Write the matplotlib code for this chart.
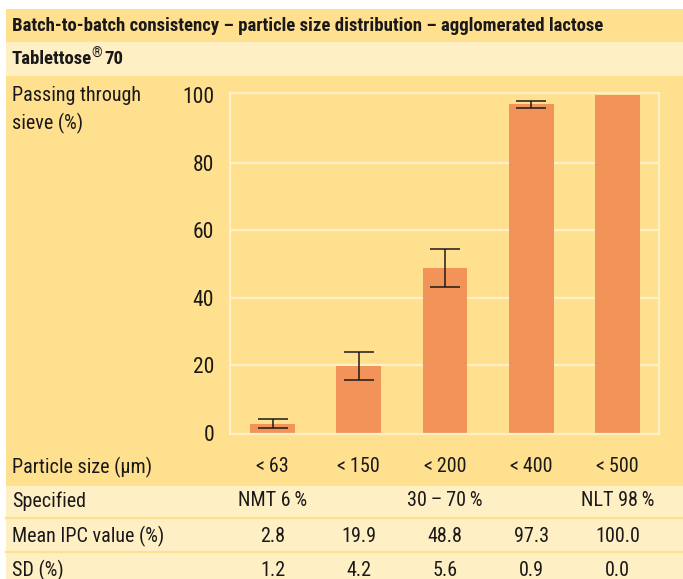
import matplotlib
matplotlib.use("Agg")
import matplotlib.pyplot as plt
from matplotlib import font_manager
from matplotlib.patches import Rectangle
from matplotlib.lines import Line2D
import numpy as np

# ---- data ----
categories = ["<\u200963", "<\u2009150", "<\u2009200", "<\u2009400", "<\u2009500"]
mean_values = [2.8, 19.9, 48.8, 97.3, 100.0]
sd_values = [1.2, 4.2, 5.6, 0.9, 0.0]
specified = ["NMT 6\u2009%", "", "30\u2009–\u200970\u2009%", "", "NLT 98\u2009%"]
mean_labels = ["2.8", "19.9", "48.8", "97.3", "100.0"]
sd_labels = ["1.2", "4.2", "5.6", "0.9", "0.0"]
yticks = [0, 20, 40, 60, 80, 100]
title = "Batch-to-batch consistency – particle size distribution – agglomerated lactose"
subtitle_name = "Tablettose"
subtitle_mark = "®"
subtitle_num = "70"
ylabel = "Passing through\nsieve (%)"
row_labels = ["Particle size (µm)", "Specified", "Mean IPC value (%)", "SD (%)"]

# ---- fonts ----
available = {f.name for f in font_manager.fontManager.ttflist}
prefs = ["Roboto Condensed", "Liberation Sans Narrow", "DejaVu Sans Condensed", "Open Sans Condensed"]
fam = None
for p in prefs:
    if p in available:
        fam = p
        break
if fam is None:
    fam = "DejaVu Sans"
    FS, FT = 11, 10.5
else:
    FS, FT = 14.5, 13.5
plt.rcParams["font.family"] = [fam, "DejaVu Sans"]

W, H = 683, 579
fig = plt.figure(figsize=(W / 100, H / 100), dpi=100)
fig.patch.set_facecolor("white")

DARK = "#FEE08F"
LIGHT = "#FFEFC4"
BAR = "#F29459"
GRID = "#FFF0C8"
TXT = "#1A1818"


def fx(x):
    return x / W


def fy(y):
    return 1 - y / H


def band(y0, y1, color, x0=6, x1=W):
    fig.patches.append(Rectangle((fx(x0), fy(y1)), fx(x1) - fx(x0), fy(y0) - fy(y1),
                                 transform=fig.transFigure, facecolor=color,
                                 edgecolor="none", zorder=-5))


band(9, 42, DARK)
band(42, 76, LIGHT)
band(76, 486, DARK)
band(486, H, LIGHT)
for ysep in [518, 552]:
    fig.lines.append(Line2D([fx(6), 1], [fy(ysep), fy(ysep)], transform=fig.transFigure,
                            color=DARK, lw=1.6, zorder=-4))


def ftext(x, y, s, ha="left", size=None, va="center", **kw):
    return fig.text(fx(x), fy(y), s, ha=ha, va=va, color=TXT,
                    fontsize=size if size else FS, **kw)


ftext(12, 26, title, size=FT, fontweight="bold")

renderer = fig.canvas.get_renderer()
t1 = ftext(12, 59, subtitle_name, size=FT, fontweight="bold")
x_end = t1.get_window_extent(renderer).x1
t2 = ftext(x_end - 1, 54, subtitle_mark, size=FT * 0.72)
x_end2 = t2.get_window_extent(renderer).x1
ftext(x_end2 + 3, 59, subtitle_num, size=FT, fontweight="bold")

ftext(12, 110, ylabel, linespacing=1.45)

# ---- axes ----
ax_left, ax_right, ax_top, ax_bottom = 230, 659, 93, 434
ax = fig.add_axes([fx(ax_left), fy(ax_bottom), fx(ax_right) - fx(ax_left), fy(ax_top) - fy(ax_bottom)],
                  zorder=5)
ax.set_facecolor("none")
x = np.arange(len(categories))
ax.set_xlim(-0.493, 4.48)
ax.set_ylim(-0.3, 100.7)
for g in yticks[1:-1]:
    ax.axhline(g, color=GRID, lw=1.6, zorder=1)
ax.bar(x, mean_values, width=0.52, color=BAR, zorder=2)
sd = np.array(sd_values)
m = np.array(mean_values)
mask = sd > 0
ax.errorbar(x[mask], m[mask], yerr=sd[mask], fmt="none", ecolor="#1E1A18",
            elinewidth=1.1, capsize=10.8, capthick=1.1, zorder=3)
for s in ax.spines.values():
    s.set_color(GRID)
    s.set_linewidth(1.6)
ax.set_xticks([])
ax.set_yticks(yticks)
ax.set_yticklabels([str(t) for t in yticks])
ax.tick_params(axis="y", length=0, pad=11.5, labelsize=FS + 1, labelcolor=TXT)

# ---- table ----
centers_px = [ax.transData.transform((xi, 0))[0] for xi in x]
row_y = [467, 501, 536, 570]
rows = [categories, specified, mean_labels, sd_labels]
for ry, lab, vals in zip(row_y, row_labels, rows):
    ftext(12, ry, lab)
    for cx, v in zip(centers_px, vals):
        if v:
            ftext(cx, ry, v, ha="center")

fig.savefig("out.png", dpi=100, facecolor="white")
